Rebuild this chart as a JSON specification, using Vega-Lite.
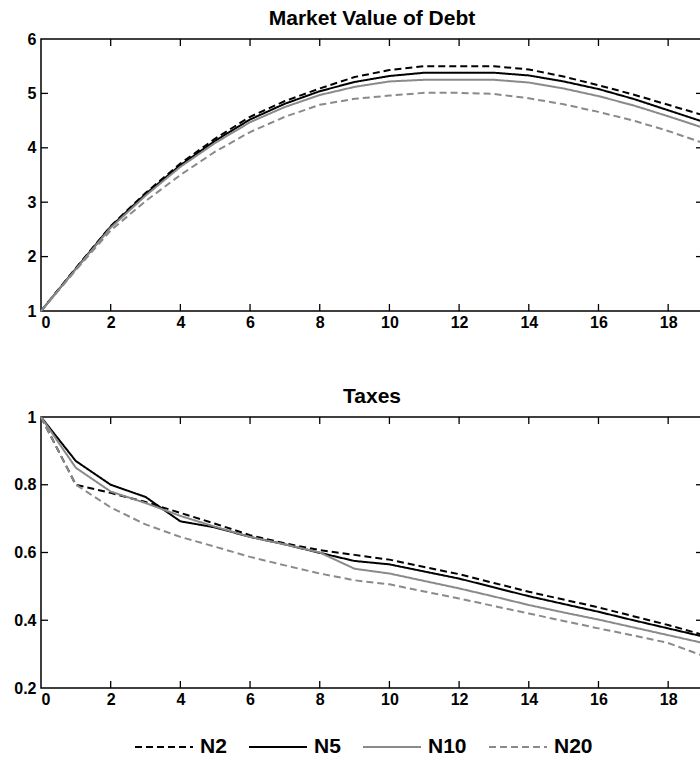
{
  "$schema": "https://vega.github.io/schema/vega-lite/v6.json",
  "autosize": {"type": "pad"},
  "padding": {"left": 13, "top": 7, "right": 0, "bottom": 0},
  "background": "white",
  "config": {
    "font": "Liberation Sans",
    "view": {"stroke": "black", "strokeWidth": 1.5},
    "axis": {
      "labelFont": "Liberation Sans",
      "labelFontWeight": "bold",
      "labelFontSize": 16,
      "labelColor": "black",
      "ticks": false,
      "domain": false,
      "grid": false,
      "title": null,
      "labelPadding": 5
    },
    "axisX": {"labelPadding": 3},
    "title": {"font": "Liberation Sans", "fontSize": 21, "fontWeight": "bold", "color": "black", "offset": 2},
    "legend": {"labelFont": "Liberation Sans", "labelFontSize": 21, "labelFontWeight": "bold", "labelColor": "black"}
  },
  "datasets": {
    "rows": [
      {"p": "debt", "x": 0, "N2": 1, "N5": 1, "N10": 1, "N20": 1},
      {"p": "debt", "x": 1, "N2": 1.79, "N5": 1.78, "N10": 1.77, "N20": 1.75},
      {"p": "debt", "x": 2, "N2": 2.56, "N5": 2.55, "N10": 2.53, "N20": 2.48},
      {"p": "debt", "x": 3, "N2": 3.17, "N5": 3.15, "N10": 3.12, "N20": 3.02},
      {"p": "debt", "x": 4, "N2": 3.71, "N5": 3.68, "N10": 3.65, "N20": 3.5},
      {"p": "debt", "x": 5, "N2": 4.17, "N5": 4.13, "N10": 4.09, "N20": 3.93},
      {"p": "debt", "x": 6, "N2": 4.57, "N5": 4.52, "N10": 4.47, "N20": 4.29},
      {"p": "debt", "x": 7, "N2": 4.86, "N5": 4.81, "N10": 4.75, "N20": 4.57},
      {"p": "debt", "x": 8, "N2": 5.09, "N5": 5.04, "N10": 4.97, "N20": 4.79},
      {"p": "debt", "x": 9, "N2": 5.3, "N5": 5.21, "N10": 5.12, "N20": 4.9},
      {"p": "debt", "x": 10, "N2": 5.43, "N5": 5.32, "N10": 5.22, "N20": 4.96},
      {"p": "debt", "x": 11, "N2": 5.5, "N5": 5.38, "N10": 5.25, "N20": 5.01},
      {"p": "debt", "x": 12, "N2": 5.5, "N5": 5.38, "N10": 5.25, "N20": 5.01},
      {"p": "debt", "x": 13, "N2": 5.5, "N5": 5.38, "N10": 5.25, "N20": 4.99},
      {"p": "debt", "x": 14, "N2": 5.44, "N5": 5.33, "N10": 5.2, "N20": 4.91},
      {"p": "debt", "x": 15, "N2": 5.31, "N5": 5.22, "N10": 5.09, "N20": 4.8},
      {"p": "debt", "x": 16, "N2": 5.15, "N5": 5.08, "N10": 4.95, "N20": 4.66},
      {"p": "debt", "x": 17, "N2": 4.98, "N5": 4.9, "N10": 4.78, "N20": 4.5},
      {"p": "debt", "x": 18, "N2": 4.79, "N5": 4.69, "N10": 4.58, "N20": 4.31},
      {"p": "debt", "x": 19, "N2": 4.6, "N5": 4.48, "N10": 4.37, "N20": 4.09},
      {"p": "tax", "x": 0, "N2": 1, "N5": 1, "N10": 1, "N20": 1},
      {"p": "tax", "x": 1, "N2": 0.8, "N5": 0.87, "N10": 0.85, "N20": 0.8},
      {"p": "tax", "x": 2, "N2": 0.776, "N5": 0.8, "N10": 0.78, "N20": 0.733},
      {"p": "tax", "x": 3, "N2": 0.749, "N5": 0.764, "N10": 0.746, "N20": 0.683},
      {"p": "tax", "x": 4, "N2": 0.717, "N5": 0.692, "N10": 0.708, "N20": 0.646},
      {"p": "tax", "x": 5, "N2": 0.685, "N5": 0.674, "N10": 0.676, "N20": 0.617},
      {"p": "tax", "x": 6, "N2": 0.651, "N5": 0.646, "N10": 0.646, "N20": 0.587},
      {"p": "tax", "x": 7, "N2": 0.627, "N5": 0.624, "N10": 0.624, "N20": 0.562},
      {"p": "tax", "x": 8, "N2": 0.607, "N5": 0.599, "N10": 0.6, "N20": 0.538},
      {"p": "tax", "x": 9, "N2": 0.593, "N5": 0.575, "N10": 0.552, "N20": 0.518},
      {"p": "tax", "x": 10, "N2": 0.579, "N5": 0.565, "N10": 0.538, "N20": 0.506},
      {"p": "tax", "x": 11, "N2": 0.557, "N5": 0.544, "N10": 0.516, "N20": 0.485},
      {"p": "tax", "x": 12, "N2": 0.536, "N5": 0.523, "N10": 0.494, "N20": 0.464},
      {"p": "tax", "x": 13, "N2": 0.51, "N5": 0.497, "N10": 0.47, "N20": 0.442},
      {"p": "tax", "x": 14, "N2": 0.484, "N5": 0.471, "N10": 0.445, "N20": 0.42},
      {"p": "tax", "x": 15, "N2": 0.461, "N5": 0.448, "N10": 0.423, "N20": 0.398},
      {"p": "tax", "x": 16, "N2": 0.438, "N5": 0.425, "N10": 0.402, "N20": 0.376},
      {"p": "tax", "x": 17, "N2": 0.412, "N5": 0.4, "N10": 0.379, "N20": 0.355},
      {"p": "tax", "x": 18, "N2": 0.386, "N5": 0.376, "N10": 0.356, "N20": 0.333},
      {"p": "tax", "x": 19, "N2": 0.357, "N5": 0.352, "N10": 0.333, "N20": 0.295}
    ],
    "tickpos": [
      {"p": "debt", "ax": "x", "t": 2, "e": 1}, {"p": "debt", "ax": "x", "t": 4, "e": 1}, {"p": "debt", "ax": "x", "t": 6, "e": 1},
      {"p": "debt", "ax": "x", "t": 8, "e": 1}, {"p": "debt", "ax": "x", "t": 10, "e": 1}, {"p": "debt", "ax": "x", "t": 12, "e": 1},
      {"p": "debt", "ax": "x", "t": 14, "e": 1}, {"p": "debt", "ax": "x", "t": 16, "e": 1}, {"p": "debt", "ax": "x", "t": 18, "e": 1},
      {"p": "debt", "ax": "x", "t": 2, "e": 6}, {"p": "debt", "ax": "x", "t": 4, "e": 6}, {"p": "debt", "ax": "x", "t": 6, "e": 6},
      {"p": "debt", "ax": "x", "t": 8, "e": 6}, {"p": "debt", "ax": "x", "t": 10, "e": 6}, {"p": "debt", "ax": "x", "t": 12, "e": 6},
      {"p": "debt", "ax": "x", "t": 14, "e": 6}, {"p": "debt", "ax": "x", "t": 16, "e": 6}, {"p": "debt", "ax": "x", "t": 18, "e": 6},
      {"p": "debt", "ax": "y", "t": 2, "e": 0}, {"p": "debt", "ax": "y", "t": 3, "e": 0}, {"p": "debt", "ax": "y", "t": 4, "e": 0}, {"p": "debt", "ax": "y", "t": 5, "e": 0},
      {"p": "debt", "ax": "y", "t": 2, "e": 19}, {"p": "debt", "ax": "y", "t": 3, "e": 19}, {"p": "debt", "ax": "y", "t": 4, "e": 19}, {"p": "debt", "ax": "y", "t": 5, "e": 19},
      {"p": "tax", "ax": "x", "t": 2, "e": 0.2}, {"p": "tax", "ax": "x", "t": 4, "e": 0.2}, {"p": "tax", "ax": "x", "t": 6, "e": 0.2},
      {"p": "tax", "ax": "x", "t": 8, "e": 0.2}, {"p": "tax", "ax": "x", "t": 10, "e": 0.2}, {"p": "tax", "ax": "x", "t": 12, "e": 0.2},
      {"p": "tax", "ax": "x", "t": 14, "e": 0.2}, {"p": "tax", "ax": "x", "t": 16, "e": 0.2}, {"p": "tax", "ax": "x", "t": 18, "e": 0.2},
      {"p": "tax", "ax": "x", "t": 2, "e": 1}, {"p": "tax", "ax": "x", "t": 4, "e": 1}, {"p": "tax", "ax": "x", "t": 6, "e": 1},
      {"p": "tax", "ax": "x", "t": 8, "e": 1}, {"p": "tax", "ax": "x", "t": 10, "e": 1}, {"p": "tax", "ax": "x", "t": 12, "e": 1},
      {"p": "tax", "ax": "x", "t": 14, "e": 1}, {"p": "tax", "ax": "x", "t": 16, "e": 1}, {"p": "tax", "ax": "x", "t": 18, "e": 1},
      {"p": "tax", "ax": "y", "t": 0.4, "e": 0}, {"p": "tax", "ax": "y", "t": 0.6, "e": 0}, {"p": "tax", "ax": "y", "t": 0.8, "e": 0},
      {"p": "tax", "ax": "y", "t": 0.4, "e": 19}, {"p": "tax", "ax": "y", "t": 0.6, "e": 19}, {"p": "tax", "ax": "y", "t": 0.8, "e": 19}
    ]
  },
  "bounds": "flush",
  "spacing": 106,
  "resolve": {"legend": {"color": "shared", "strokeDash": "shared"}},
  "vconcat": [
    {
      "width": 662,
      "height": 272,
      "title": "Market Value of Debt",
      "layer": [
        {
          "data": {"name": "rows"},
          "transform": [
            {"filter": "datum.p === 'debt'"},
            {"fold": ["N2", "N5", "N10", "N20"], "as": ["series", "v"]}
          ],
          "mark": {"type": "line", "strokeWidth": 2},
          "encoding": {
            "x": {"field": "x", "type": "quantitative", "scale": {"domain": [0, 19], "nice": false, "zero": false}, "axis": {"values": [0, 2, 4, 6, 8, 10, 12, 14, 16, 18]}},
            "y": {"field": "v", "type": "quantitative", "scale": {"domain": [1, 6], "nice": false, "zero": false}, "axis": {"values": [1, 2, 3, 4, 5, 6]}},
            "color": {"field": "series", "type": "nominal", "scale": {"domain": ["N2", "N5", "N10", "N20"], "range": ["#000000", "#000000", "#8a8a8a", "#8a8a8a"]},
              "legend": {"orient": "none", "legendX": 93, "legendY": 678, "direction": "horizontal", "columns": 4, "title": null, "symbolType": "stroke", "symbolSize": 3364, "symbolStrokeWidth": 2, "labelOffset": 6, "columnPadding": 18}},
            "strokeDash": {"field": "series", "type": "nominal", "scale": {"domain": ["N2", "N5", "N10", "N20"], "range": [[7, 4], [1, 0], [1, 0], [7, 4]]},
              "legend": {"orient": "none", "legendX": 93, "legendY": 678, "direction": "horizontal", "columns": 4, "title": null, "symbolType": "stroke", "symbolSize": 3364, "symbolStrokeWidth": 2, "labelOffset": 6, "columnPadding": 18}}
          }
        },
        {
          "data": {"name": "tickpos"},
          "transform": [{"filter": "datum.p === 'debt' && datum.ax === 'x'"}],
          "mark": {"type": "tick", "orient": "vertical", "size": 14, "thickness": 1.3, "color": "black", "opacity": 1, "clip": true},
          "encoding": {
            "x": {"field": "t", "type": "quantitative"},
            "y": {"field": "e", "type": "quantitative"}
          }
        },
        {
          "data": {"name": "tickpos"},
          "transform": [{"filter": "datum.p === 'debt' && datum.ax === 'y'"}],
          "mark": {"type": "tick", "orient": "horizontal", "size": 14, "thickness": 1.3, "color": "black", "opacity": 1, "clip": true},
          "encoding": {
            "x": {"field": "e", "type": "quantitative"},
            "y": {"field": "t", "type": "quantitative"}
          }
        }
      ]
    },
    {
      "width": 662,
      "height": 271,
      "title": "Taxes",
      "layer": [
        {
          "data": {"name": "rows"},
          "transform": [
            {"filter": "datum.p === 'tax'"},
            {"fold": ["N2", "N5", "N10", "N20"], "as": ["series", "v"]}
          ],
          "mark": {"type": "line", "strokeWidth": 2},
          "encoding": {
            "x": {"field": "x", "type": "quantitative", "scale": {"domain": [0, 19], "nice": false, "zero": false}, "axis": {"values": [0, 2, 4, 6, 8, 10, 12, 14, 16, 18]}},
            "y": {"field": "v", "type": "quantitative", "scale": {"domain": [0.2, 1], "nice": false, "zero": false}, "axis": {"values": [0.2, 0.4, 0.6, 0.8, 1], "format": "~g"}},
            "color": {"field": "series", "type": "nominal", "scale": {"domain": ["N2", "N5", "N10", "N20"], "range": ["#000000", "#000000", "#8a8a8a", "#8a8a8a"]},
              "legend": {"orient": "none", "legendX": 93, "legendY": 678, "direction": "horizontal", "columns": 4, "title": null, "symbolType": "stroke", "symbolSize": 3364, "symbolStrokeWidth": 2, "labelOffset": 6, "columnPadding": 18}},
            "strokeDash": {"field": "series", "type": "nominal", "scale": {"domain": ["N2", "N5", "N10", "N20"], "range": [[7, 4], [1, 0], [1, 0], [7, 4]]},
              "legend": {"orient": "none", "legendX": 93, "legendY": 678, "direction": "horizontal", "columns": 4, "title": null, "symbolType": "stroke", "symbolSize": 3364, "symbolStrokeWidth": 2, "labelOffset": 6, "columnPadding": 18}}
          }
        },
        {
          "data": {"name": "tickpos"},
          "transform": [{"filter": "datum.p === 'tax' && datum.ax === 'x'"}],
          "mark": {"type": "tick", "orient": "vertical", "size": 14, "thickness": 1.3, "color": "black", "opacity": 1, "clip": true},
          "encoding": {
            "x": {"field": "t", "type": "quantitative"},
            "y": {"field": "e", "type": "quantitative"}
          }
        },
        {
          "data": {"name": "tickpos"},
          "transform": [{"filter": "datum.p === 'tax' && datum.ax === 'y'"}],
          "mark": {"type": "tick", "orient": "horizontal", "size": 14, "thickness": 1.3, "color": "black", "opacity": 1, "clip": true},
          "encoding": {
            "x": {"field": "e", "type": "quantitative"},
            "y": {"field": "t", "type": "quantitative"}
          }
        }
      ]
    }
  ]
}
